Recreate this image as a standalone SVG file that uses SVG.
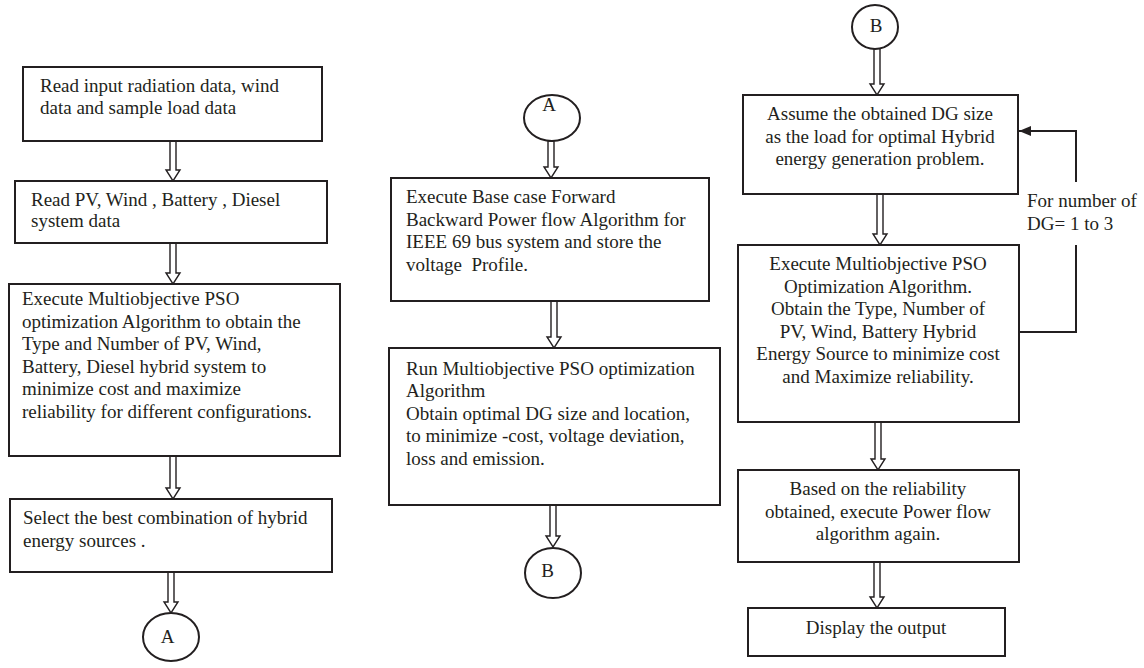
<svg xmlns="http://www.w3.org/2000/svg" width="1144" height="668" viewBox="0 0 1144 668">
<style>
  .box { fill: #fff; stroke: #231f20; stroke-width: 2; }
  .conn { fill: #fff; stroke: #231f20; stroke-width: 1.4; stroke-linejoin: miter; }
  .line { fill: none; stroke: #231f20; stroke-width: 2; }
  text { font-family: "Liberation Serif", "Times New Roman", serif; font-size: 19px; fill: #231f20; }
  .c { text-anchor: middle; }
</style>
<defs>
  <marker id="ah" markerWidth="12" markerHeight="10" refX="12" refY="5" orient="auto" markerUnits="userSpaceOnUse">
    <path d="M0,0 L12,5 L0,10 Z" fill="#231f20"/>
  </marker>
</defs>
<rect width="1144" height="668" fill="#fff"/>

<g id="connectors">
  <!-- hollow arrows: shaft half-width 3, head half-width 7, head height 11 -->
  <path class="conn" d="M170,141 V170 H166 L173,181 L180,170 H176 V141 Z"/>
  <path class="conn" d="M170,243 V273 H166 L173,284 L180,273 H176 V243 Z"/>
  <path class="conn" d="M170,456 V488 H166 L173,499 L180,488 H176 V456 Z"/>
  <path class="conn" d="M168,572 V602 H164 L171,613 L178,602 H174 V572 Z"/>
  <path class="conn" d="M548,141 V167 H544 L551,178 L558,167 H554 V141 Z"/>
  <path class="conn" d="M551,301 V337 H547 L554,348 L561,337 H557 V301 Z"/>
  <path class="conn" d="M550,505 V536 H546 L553,547 L560,536 H556 V505 Z"/>
  <path class="conn" d="M874,48 V84 H870 L877,95 L884,84 H880 V48 Z"/>
  <path class="conn" d="M877,194 V234 H873 L880,245 L887,234 H883 V194 Z"/>
  <path class="conn" d="M875,422 V459 H871 L878,470 L885,459 H881 V422 Z"/>
  <path class="conn" d="M874,562 V597 H870 L877,608 L884,597 H880 V562 Z"/>
  <!-- loop back -->
  <polyline class="line" points="1076,182 1076,131 1019,131" marker-end="url(#ah)"/>
  <polyline class="line" points="1076,245 1076,332 1019,332"/>
</g>

<g id="n1"><rect class="box" x="23" y="67" width="299" height="74"/>
  <text x="40" y="92">Read input radiation data, wind</text>
  <text x="40" y="114">data and sample load data</text></g>

<g id="n2"><rect class="box" x="15" y="181" width="312" height="62"/>
  <text x="31" y="205.5">Read PV, Wind , Battery , Diesel</text>
  <text x="31" y="227">system data</text></g>

<g id="n3"><rect class="box" x="9" y="284" width="331" height="172"/>
  <text x="22" y="305">Execute Multiobjective PSO</text>
  <text x="22" y="327.5">optimization Algorithm to obtain the</text>
  <text x="22" y="350">Type and Number of PV, Wind,</text>
  <text x="22" y="372.5">Battery, Diesel hybrid system to</text>
  <text x="22" y="395">minimize cost and maximize</text>
  <text x="22" y="417.5">reliability for different configurations.</text></g>

<g id="n4"><rect class="box" x="10" y="499" width="322" height="73"/>
  <text x="23" y="524">Select the best combination of hybrid</text>
  <text x="23" y="546.5">energy sources .</text></g>

<g id="cA1"><ellipse class="box" cx="171" cy="637" rx="28" ry="24"/>
  <text class="c" x="167.5" y="643">A</text></g>

<g id="cA2"><ellipse class="box" cx="552" cy="118" rx="28" ry="23"/>
  <text class="c" x="549" y="111">A</text></g>

<g id="m1"><rect class="box" x="391" y="178" width="318" height="123"/>
  <text x="406" y="203">Execute Base case Forward</text>
  <text x="406" y="225.5">Backward Power flow Algorithm for</text>
  <text x="406" y="248">IEEE 69 bus system and store the</text>
  <text x="406" y="271" xml:space="preserve">voltage  Profile.</text></g>

<g id="m2"><rect class="box" x="389" y="348" width="331" height="157"/>
  <text x="406" y="375">Run Multiobjective PSO optimization</text>
  <text x="406" y="397">Algorithm</text>
  <text x="406" y="419.5">Obtain optimal DG size and location,</text>
  <text x="406" y="442">to minimize -cost, voltage deviation,</text>
  <text x="406" y="464.5">loss and emission.</text></g>

<g id="cB1"><ellipse class="box" cx="553" cy="573" rx="28" ry="25"/>
  <text class="c" x="547.5" y="577">B</text></g>

<g id="cB2"><ellipse class="box" cx="875" cy="27" rx="23" ry="22"/>
  <text class="c" x="876" y="32">B</text></g>

<g id="r1"><rect class="box" x="743" y="95" width="275" height="99"/>
  <text class="c" x="880" y="120">Assume the obtained DG size</text>
  <text class="c" x="880" y="142.5">as the load for optimal Hybrid</text>
  <text class="c" x="880" y="165">energy generation problem.</text></g>

<g id="loopLabel">
  <text x="1027" y="207">For number of</text>
  <text x="1027" y="230">DG= 1 to 3</text></g>

<g id="r2"><rect class="box" x="738" y="245" width="281" height="177"/>
  <text class="c" x="878" y="270">Execute Multiobjective PSO</text>
  <text class="c" x="878" y="292.5">Optimization Algorithm.</text>
  <text class="c" x="878" y="315">Obtain the Type, Number of</text>
  <text class="c" x="878" y="337.5">PV, Wind, Battery Hybrid</text>
  <text class="c" x="878" y="360">Energy Source to minimize cost</text>
  <text class="c" x="878" y="382.5">and Maximize reliability.</text></g>

<g id="r3"><rect class="box" x="738" y="470" width="281" height="92"/>
  <text class="c" x="878" y="495">Based on the reliability</text>
  <text class="c" x="878" y="517.5">obtained, execute Power flow</text>
  <text class="c" x="878" y="540">algorithm again.</text></g>

<g id="r4"><rect class="box" x="748" y="608" width="257" height="48"/>
  <text class="c" x="876" y="634">Display the output</text></g>
</svg>
